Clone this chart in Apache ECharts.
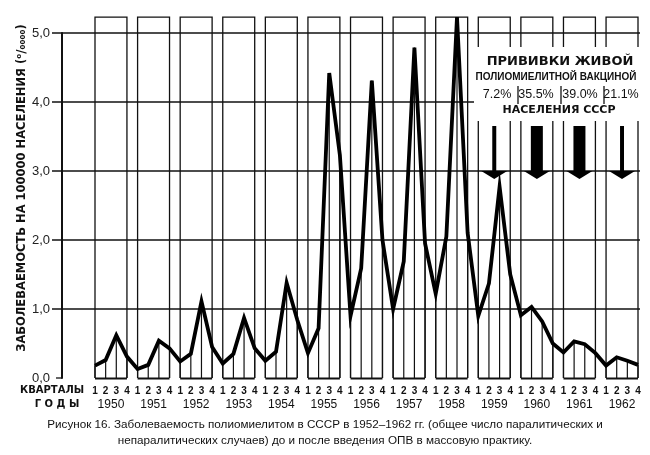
<!DOCTYPE html>
<html><head><meta charset="utf-8">
<script src="https://cdn.jsdelivr.net/npm/echarts@6/dist/echarts.min.js"></script>
<style>html,body{margin:0;padding:0;background:#fff}#c{width:650px;height:455px}</style>
</head><body><div id="c"></div>
<script>
// ---- data ----
const YEARS = ['1950','1951','1952','1953','1954','1955','1956','1957','1958','1959','1960','1961','1962'];
const QUARTERS = ['1','2','3','4'];
const INCIDENCE = [
  0.18, 0.26, 0.62, 0.31,   // 1950
  0.13, 0.19, 0.54, 0.43,   // 1951
  0.24, 0.35, 1.11, 0.45,   // 1952
  0.21, 0.35, 0.87, 0.43,   // 1953
  0.25, 0.38, 1.38, 0.84,   // 1954
  0.36, 0.72, 4.42, 3.23,   // 1955
  0.90, 1.59, 4.31, 2.00,   // 1956
  1.00, 1.69, 4.79, 1.95,   // 1957
  1.22, 2.05, 5.23, 2.10,   // 1958
  0.90, 1.37, 2.77, 1.50,   // 1959
  0.91, 1.03, 0.82, 0.50,   // 1960
  0.37, 0.53, 0.49, 0.36,   // 1961
  0.18, 0.30, 0.25, 0.19    // 1962
];
const Y_TICKS = [0, 1, 2, 3, 4, 5];
const VACCINE_YEARS = ['1959','1960','1961','1962'];
const VACCINE_COVERAGE = [7.2, 35.5, 39.0, 21.1];
const VACCINE_LABELS = ['7.2%', '35.5%', '39.0%', '21.1%'];

// ---- layout constants ----
const BOX_TOP = 5.23;
const AXIS_OFFSET = 33;
const INK = '#111';

const CATS = [];
YEARS.forEach(y => QUARTERS.forEach(q => CATS.push(y + '-' + q)));

const chart = echarts.init(document.getElementById('c'));

const txt = (text, x, y, font, extra) => Object.assign({
  type: 'text', z: 101,
  style: { text, x, y, align: 'center', verticalAlign: 'middle', fill: INK, font }
}, extra || {});

const option = {
  animation: false,
  backgroundColor: '#fff',
  grid: { left: 95, right: 12, top: 33, bottom: 77 },
  xAxis: {
    type: 'category', data: CATS, boundaryGap: false,
    axisLine: { show: false }, axisTick: { show: false }, splitLine: { show: false },
    axisLabel: {
      interval: 0, margin: 8,
      formatter: v => v.split('-')[1],
      fontSize: 10, fontWeight: 'bold', color: INK, fontFamily: 'Liberation Sans'
    }
  },
  yAxis: {
    type: 'value', min: 0, max: 5, interval: 1, offset: AXIS_OFFSET,
    axisLine: { show: true, lineStyle: { color: INK, width: 2 } },
    axisTick: { show: false }, splitLine: { show: false },
    axisLabel: {
      margin: 12, fontSize: 13, color: '#222', fontFamily: 'Liberation Sans',
      formatter: v => v.toFixed(1).replace('.', ',')
    }
  },
  series: [
    { // horizontal rulings
      type: 'custom', silent: true, z: 1,
      data: Y_TICKS.map(v => [0, v]),
      renderItem: (params, api) => {
        const v = api.value(1);
        const p = api.coord([0, v]);
        const xEnd = api.coord([CATS.length - 1, v])[0];
        const axisX = p[0] - AXIS_OFFSET;
        const x1 = v === 0 ? axisX - 6 : axisX - 10;
        const x2 = v === 0 ? axisX : xEnd + 2;
        return { type: 'line', shape: { x1, y1: p[1], x2, y2: p[1] },
                 style: { stroke: INK, lineWidth: 1.3 } };
      }
    },
    { // year boxes + year labels
      type: 'custom', silent: true, z: 2,
      data: YEARS.map((y, i) => [i * 4, 0]),
      renderItem: (params, api) => {
        const i = api.value(0);
        const x1 = api.coord([i, 0])[0];
        const x4 = api.coord([i + 3, 0])[0];
        const y0 = api.coord([i, 0])[1];
        const yt = api.coord([i, BOX_TOP])[1];
        return { type: 'group', children: [
          { type: 'polyline', shape: { points: [[x1, y0], [x1, yt], [x4, yt], [x4, y0]] },
            style: { stroke: INK, lineWidth: 1.3, fill: null } },
          { type: 'line', shape: { x1, y1: y0 + 0.5, x2: x4, y2: y0 + 0.5 },
            style: { stroke: INK, lineWidth: 2 } },
          { type: 'text', style: { text: YEARS[params.dataIndex], x: (x1 + x4) / 2, y: y0 + 27,
            align: 'center', verticalAlign: 'middle', fill: INK,
            font: '12px "Liberation Sans", sans-serif' } }
        ] };
      }
    },
    { // drop lines from each point
      type: 'custom', silent: true, z: 2,
      data: INCIDENCE.map((v, i) => [i, v]),
      renderItem: (params, api) => {
        const a = api.coord([api.value(0), 0]);
        const b = api.coord([api.value(0), api.value(1)]);
        return { type: 'line', shape: { x1: a[0], y1: a[1], x2: b[0], y2: b[1] },
                 style: { stroke: INK, lineWidth: 1.2 } };
      }
    },
    { // incidence line
      type: 'line', data: INCIDENCE, symbol: 'none', clip: false, z: 5,
      lineStyle: { color: '#000', width: 3.8, join: 'miter' }
    },
    { // vaccination arrows
      type: 'custom', silent: true, z: 6,
      data: VACCINE_YEARS.map((y, k) => [YEARS.indexOf(y) * 4, VACCINE_COVERAGE[k]]),
      renderItem: (params, api) => {
        const i = api.value(0), cov = api.value(1);
        const x1 = api.coord([i, 0])[0];
        const x4 = api.coord([i + 3, 0])[0];
        const xc = (x1 + x4) / 2;
        const yb = api.coord([i, 3])[1];
        const w = cov > 30 ? 12 : 4;
        return { type: 'group', children: [
          { type: 'rect', shape: { x: xc - w / 2, y: yb - 45, width: w, height: 45 }, style: { fill: '#000' } },
          { type: 'polygon', shape: { points: [[xc - 13, yb], [xc + 13, yb], [xc, yb + 8]] }, style: { fill: '#000' } }
        ] };
      }
    }
  ],
  graphic: { elements: [
    { type: 'rect', z: 100, shape: { x: 474, y: 47, width: 171, height: 74 }, style: { fill: '#fff' } },
    txt('ПРИВИВКИ ЖИВОЙ', 560, 62, 'bold 13px "DejaVu Sans", sans-serif'),
    txt('ПОЛИОМИЕЛИТНОЙ ВАКЦИНОЙ', 556, 77, 'bold 10px "Liberation Sans", sans-serif'),
    txt(VACCINE_LABELS[0], 497, 95, '12.5px "Liberation Sans", sans-serif'),
    txt(VACCINE_LABELS[1], 536, 95, '12.5px "Liberation Sans", sans-serif'),
    txt(VACCINE_LABELS[2], 580, 95, '12.5px "Liberation Sans", sans-serif'),
    txt(VACCINE_LABELS[3], 621, 95, '12.5px "Liberation Sans", sans-serif'),
    { type: 'line', z: 101, shape: { x1: 518, y1: 86, x2: 518, y2: 104 }, style: { stroke: INK, lineWidth: 1.3 } },
    { type: 'line', z: 101, shape: { x1: 561, y1: 86, x2: 561, y2: 104 }, style: { stroke: INK, lineWidth: 1.3 } },
    { type: 'line', z: 101, shape: { x1: 604, y1: 86, x2: 604, y2: 104 }, style: { stroke: INK, lineWidth: 1.3 } },
    txt('НАСЕЛЕНИЯ СССР', 559, 110, 'bold 11px "DejaVu Sans", sans-serif'),
    txt('КВАРТАЛЫ', 52, 390, 'bold 10px "DejaVu Sans", sans-serif'),
    txt('Г О Д Ы', 57, 404, 'bold 10px "DejaVu Sans", sans-serif'),
    {
      type: 'text', z: 101, x: 22, y: 188, rotation: Math.PI / 2,
      style: { text: 'ЗАБОЛЕВАЕМОСТЬ НА 100000 НАСЕЛЕНИЯ (⁰/₀₀₀₀)', x: 0, y: 0, align: 'center', verticalAlign: 'middle',
               fill: INK, font: 'bold 11.5px "DejaVu Sans", sans-serif' }
    },
    txt('Рисунок 16. Заболеваемость полиомиелитом в СССР в 1952–1962 гг. (общее число паралитических и',
      325, 425, '11.7px "Liberation Sans", sans-serif'),
    txt('непаралитических случаев) до и после введения ОПВ в массовую практику.',
      325, 441, '11.7px "Liberation Sans", sans-serif')
  ] }
};
chart.setOption(option);
</script></body></html>
